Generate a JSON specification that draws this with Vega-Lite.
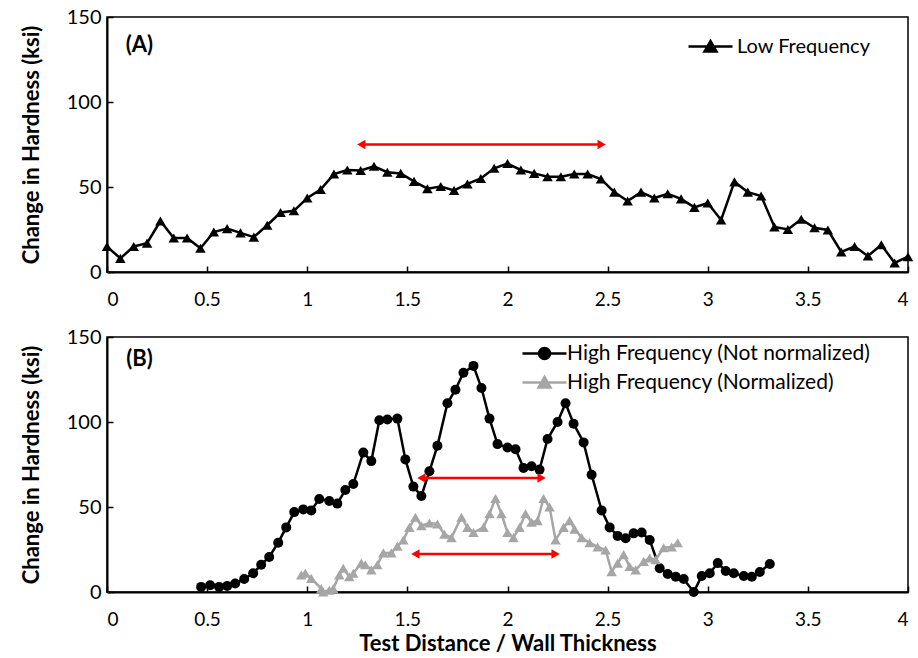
{
  "$schema": "https://vega.github.io/schema/vega-lite/v6.json",
  "padding": {"left": 19, "top": 6, "right": 8, "bottom": 0},
  "background": "white",
  "spacing": 65,
  "bounds": "flush",
  "resolve": {"scale": {"fill": "independent", "stroke": "independent", "shape": "independent"}},
  "config": {
    "font": "Lato",
    "view": {"stroke": "#000", "strokeWidth": 1.5},
    "axis": {"grid": false, "domainColor": "#000", "domainWidth": 2, "tickColor": "#000", "tickWidth": 1.5, "tickSize": -6,
      "labelFont": "Lato", "labelFontSize": 20, "labelColor": "#000",
      "titleFont": "Lato", "titleFontSize": 22, "titleFontWeight": "bold", "titleColor": "#000"},
    "axisX": {"labelPadding": 24, "labelFontSize": 19},
    "axisY": {"labelPadding": 12},
    "legend": {"padding": 0, "symbolSize": 400, "symbolStrokeWidth": 2.5, "symbolOpacity": 1, "labelFont": "Lato", "labelFontSize": 20, "labelColor": "#000", "labelLimit": 0, "rowPadding": 7, "symbolOffset": 10, "labelOffset": 15}
  },
  "datasets": {
    "low": [
      {"x": 0.0, "y": 15}, {"x": 0.0667, "y": 8}, {"x": 0.1333, "y": 15}, {"x": 0.2, "y": 17}, {"x": 0.2667, "y": 30},
      {"x": 0.3333, "y": 20}, {"x": 0.4, "y": 20}, {"x": 0.4667, "y": 14}, {"x": 0.5333, "y": 23.5}, {"x": 0.6, "y": 25.5},
      {"x": 0.6667, "y": 23}, {"x": 0.7333, "y": 20.5}, {"x": 0.8, "y": 27.5}, {"x": 0.8667, "y": 35}, {"x": 0.9333, "y": 36},
      {"x": 1.0, "y": 43.5}, {"x": 1.0667, "y": 48.5}, {"x": 1.1333, "y": 57.6}, {"x": 1.2, "y": 60}, {"x": 1.2667, "y": 59.7},
      {"x": 1.3333, "y": 62.2}, {"x": 1.4, "y": 58.7}, {"x": 1.4667, "y": 58}, {"x": 1.5333, "y": 53.3}, {"x": 1.6, "y": 49},
      {"x": 1.6667, "y": 50.3}, {"x": 1.7333, "y": 48}, {"x": 1.8, "y": 51.8}, {"x": 1.8667, "y": 55}, {"x": 1.9333, "y": 61},
      {"x": 2.0, "y": 63.8}, {"x": 2.0667, "y": 60}, {"x": 2.1333, "y": 58}, {"x": 2.2, "y": 56}, {"x": 2.2667, "y": 56},
      {"x": 2.3333, "y": 57.6}, {"x": 2.4, "y": 57.6}, {"x": 2.4667, "y": 54.7}, {"x": 2.5333, "y": 47}, {"x": 2.6, "y": 41.8},
      {"x": 2.6667, "y": 47}, {"x": 2.7333, "y": 43.5}, {"x": 2.8, "y": 46}, {"x": 2.8667, "y": 43}, {"x": 2.9333, "y": 38},
      {"x": 3.0, "y": 40.6}, {"x": 3.0667, "y": 30.6}, {"x": 3.1333, "y": 53}, {"x": 3.2, "y": 47}, {"x": 3.2667, "y": 44.7},
      {"x": 3.3333, "y": 26.5}, {"x": 3.4, "y": 25}, {"x": 3.4667, "y": 31}, {"x": 3.5333, "y": 26}, {"x": 3.6, "y": 24.7},
      {"x": 3.6667, "y": 11.8}, {"x": 3.7333, "y": 15}, {"x": 3.8, "y": 9.4}, {"x": 3.8667, "y": 16}, {"x": 3.9333, "y": 5.3},
      {"x": 4.0, "y": 9}
    ],
    "raw": [
      {"x": 0.47, "y": 3}, {"x": 0.515, "y": 4}, {"x": 0.56, "y": 3}, {"x": 0.6, "y": 3.5}, {"x": 0.64, "y": 5},
      {"x": 0.685, "y": 7.6}, {"x": 0.73, "y": 11}, {"x": 0.77, "y": 16}, {"x": 0.81, "y": 20.6}, {"x": 0.855, "y": 29},
      {"x": 0.895, "y": 38}, {"x": 0.935, "y": 47}, {"x": 0.98, "y": 48.6}, {"x": 1.02, "y": 48}, {"x": 1.06, "y": 54.7},
      {"x": 1.11, "y": 53.5}, {"x": 1.15, "y": 52}, {"x": 1.19, "y": 60}, {"x": 1.23, "y": 63.5}, {"x": 1.28, "y": 82},
      {"x": 1.32, "y": 77}, {"x": 1.36, "y": 101}, {"x": 1.4, "y": 101.5}, {"x": 1.45, "y": 102}, {"x": 1.49, "y": 78},
      {"x": 1.53, "y": 62}, {"x": 1.57, "y": 56.5}, {"x": 1.61, "y": 71}, {"x": 1.65, "y": 86}, {"x": 1.7, "y": 111},
      {"x": 1.74, "y": 119}, {"x": 1.78, "y": 129}, {"x": 1.83, "y": 133}, {"x": 1.87, "y": 120}, {"x": 1.91, "y": 102},
      {"x": 1.95, "y": 87}, {"x": 2.0, "y": 85}, {"x": 2.04, "y": 84}, {"x": 2.08, "y": 73}, {"x": 2.12, "y": 74},
      {"x": 2.16, "y": 72}, {"x": 2.2, "y": 90}, {"x": 2.25, "y": 100}, {"x": 2.29, "y": 111}, {"x": 2.33, "y": 99},
      {"x": 2.38, "y": 88}, {"x": 2.42, "y": 69}, {"x": 2.47, "y": 48}, {"x": 2.51, "y": 38}, {"x": 2.55, "y": 33},
      {"x": 2.59, "y": 31.6}, {"x": 2.63, "y": 34.5}, {"x": 2.67, "y": 35}, {"x": 2.71, "y": 30.6}, {"x": 2.76, "y": 14},
      {"x": 2.8, "y": 10.6}, {"x": 2.84, "y": 9}, {"x": 2.88, "y": 7.6}, {"x": 2.93, "y": 0}, {"x": 2.97, "y": 9.4},
      {"x": 3.01, "y": 11}, {"x": 3.05, "y": 17}, {"x": 3.09, "y": 12.4}, {"x": 3.13, "y": 11}, {"x": 3.18, "y": 9.4},
      {"x": 3.22, "y": 9}, {"x": 3.26, "y": 11.8}, {"x": 3.31, "y": 16.5}
    ],
    "norm": [
      {"x": 0.97, "y": 10}, {"x": 0.99, "y": 11}, {"x": 1.02, "y": 8}, {"x": 1.07, "y": 2}, {"x": 1.08, "y": 0},
      {"x": 1.11, "y": 1}, {"x": 1.13, "y": 2}, {"x": 1.16, "y": 10}, {"x": 1.18, "y": 14}, {"x": 1.21, "y": 9},
      {"x": 1.23, "y": 11}, {"x": 1.27, "y": 17}, {"x": 1.29, "y": 16}, {"x": 1.32, "y": 13}, {"x": 1.35, "y": 16},
      {"x": 1.38, "y": 23}, {"x": 1.42, "y": 23}, {"x": 1.45, "y": 27}, {"x": 1.48, "y": 30.6}, {"x": 1.51, "y": 38},
      {"x": 1.54, "y": 44}, {"x": 1.57, "y": 39}, {"x": 1.61, "y": 40.6}, {"x": 1.65, "y": 40}, {"x": 1.685, "y": 34},
      {"x": 1.72, "y": 32}, {"x": 1.77, "y": 44}, {"x": 1.8, "y": 38}, {"x": 1.83, "y": 35}, {"x": 1.88, "y": 38},
      {"x": 1.91, "y": 46}, {"x": 1.94, "y": 55}, {"x": 1.97, "y": 46}, {"x": 2.0, "y": 35}, {"x": 2.03, "y": 32},
      {"x": 2.06, "y": 38}, {"x": 2.09, "y": 46}, {"x": 2.12, "y": 41}, {"x": 2.15, "y": 42}, {"x": 2.18, "y": 55},
      {"x": 2.21, "y": 50}, {"x": 2.24, "y": 30.6}, {"x": 2.28, "y": 38}, {"x": 2.31, "y": 42}, {"x": 2.335, "y": 37},
      {"x": 2.37, "y": 32}, {"x": 2.41, "y": 29}, {"x": 2.45, "y": 26.5}, {"x": 2.49, "y": 24.7}, {"x": 2.52, "y": 12},
      {"x": 2.55, "y": 17}, {"x": 2.58, "y": 22}, {"x": 2.61, "y": 15}, {"x": 2.64, "y": 13}, {"x": 2.68, "y": 18},
      {"x": 2.71, "y": 20}, {"x": 2.74, "y": 19}, {"x": 2.78, "y": 26}, {"x": 2.82, "y": 26.5}, {"x": 2.85, "y": 29}
    ],
    "arrowsA": [{"x1": 1.27, "x2": 2.47, "y": 75}],
    "arrowsB": [{"x1": 1.57, "x2": 2.17, "y": 67}, {"x1": 1.54, "x2": 2.24, "y": 22.4}]
  },
  "vconcat": [
    {
      "width": 801,
      "height": 255,
      "layer": [
        {
          "data": {"name": "low"},
          "mark": {"type": "line", "color": "#000", "strokeWidth": 2.5},
          "encoding": {
            "x": {"field": "x", "type": "quantitative", "scale": {"domain": [0, 4], "nice": false},
              "axis": {"values": [0, 0.5, 1, 1.5, 2, 2.5, 3, 3.5, 4], "format": "~g", "title": null}},
            "y": {"field": "y", "type": "quantitative", "scale": {"domain": [0, 150], "nice": false},
              "axis": {"values": [0, 50, 100, 150], "title": "Change in Hardness (ksi)", "titlePadding": 23}}
          }
        },
        {
          "data": {"name": "low"},
          "mark": {"type": "point", "shape": "triangle-up", "filled": true, "color": "#000", "size": 110, "opacity": 1},
          "encoding": {"x": {"field": "x", "type": "quantitative"}, "y": {"field": "y", "type": "quantitative"}}
        },
        {
          "data": {"name": "arrowsA"},
          "mark": {"type": "rule", "color": "#ff0000", "strokeWidth": 2.5},
          "encoding": {"x": {"field": "x1", "type": "quantitative"}, "x2": {"field": "x2"}, "y": {"field": "y", "type": "quantitative"}}
        },
        {
          "data": {"name": "arrowsA"},
          "mark": {"type": "point", "shape": "triangle-left", "filled": true, "color": "#ff0000", "size": 90, "opacity": 1},
          "encoding": {"x": {"field": "x1", "type": "quantitative"}, "y": {"field": "y", "type": "quantitative"}}
        },
        {
          "data": {"name": "arrowsA"},
          "mark": {"type": "point", "shape": "triangle-right", "filled": true, "color": "#ff0000", "size": 90, "opacity": 1},
          "encoding": {"x": {"field": "x2", "type": "quantitative"}, "y": {"field": "y", "type": "quantitative"}}
        },
        {
          "data": {"values": [{}]},
          "mark": {"type": "text", "text": "(A)", "fontSize": 22, "fontWeight": "bold", "align": "center", "baseline": "middle", "color": "#000"},
          "encoding": {"x": {"datum": 0.162, "type": "quantitative"}, "y": {"datum": 133.5, "type": "quantitative"}}
        },
        {
          "data": {"values": [{"series": "Low Frequency"}]},
          "mark": {"type": "point", "filled": true, "opacity": 0},
          "encoding": {
            "fill": {"field": "series", "type": "nominal", "scale": {"domain": ["Low Frequency"], "range": ["#000"]},
              "legend": {"title": null, "orient": "none", "legendX": 582, "legendY": 18,
                "encode": {"symbols": {"update": {"opacity": {"value": 1}, "fillOpacity": {"value": 1}, "strokeOpacity": {"value": 1}, "strokeWidth": {"value": 2.5}}}}}},
            "stroke": {"field": "series", "type": "nominal", "scale": {"domain": ["Low Frequency"], "range": ["#000"]}},
            "shape": {"field": "series", "type": "nominal", "scale": {"domain": ["Low Frequency"], "range": ["M-2.2,0L2.2,0M-0.6,0.5L0,-0.55L0.6,0.5Z"]}}
          }
        }
      ]
    },
    {
      "width": 801,
      "height": 255,
      "layer": [
        {
          "data": {"name": "raw"},
          "mark": {"type": "line", "color": "#000", "strokeWidth": 2.5},
          "encoding": {
            "x": {"field": "x", "type": "quantitative", "scale": {"domain": [0, 4], "nice": false},
              "axis": {"values": [0, 0.5, 1, 1.5, 2, 2.5, 3, 3.5, 4], "format": "~g", "title": "Test Distance / Wall Thickness", "titlePadding": 4}},
            "y": {"field": "y", "type": "quantitative", "scale": {"domain": [0, 150], "nice": false},
              "axis": {"values": [0, 50, 100, 150], "title": "Change in Hardness (ksi)", "titlePadding": 23}}
          }
        },
        {
          "data": {"name": "raw"},
          "mark": {"type": "point", "shape": "circle", "filled": true, "color": "#000", "size": 100, "opacity": 1},
          "encoding": {"x": {"field": "x", "type": "quantitative"}, "y": {"field": "y", "type": "quantitative"}}
        },
        {
          "data": {"name": "norm"},
          "mark": {"type": "line", "color": "#a6a6a6", "strokeWidth": 2.5},
          "encoding": {"x": {"field": "x", "type": "quantitative"}, "y": {"field": "y", "type": "quantitative"}}
        },
        {
          "data": {"name": "norm"},
          "mark": {"type": "point", "shape": "triangle-up", "filled": true, "color": "#a6a6a6", "size": 110, "opacity": 1},
          "encoding": {"x": {"field": "x", "type": "quantitative"}, "y": {"field": "y", "type": "quantitative"}}
        },
        {
          "data": {"name": "arrowsB"},
          "mark": {"type": "rule", "color": "#ff0000", "strokeWidth": 2.5},
          "encoding": {"x": {"field": "x1", "type": "quantitative"}, "x2": {"field": "x2"}, "y": {"field": "y", "type": "quantitative"}}
        },
        {
          "data": {"name": "arrowsB"},
          "mark": {"type": "point", "shape": "triangle-left", "filled": true, "color": "#ff0000", "size": 90, "opacity": 1},
          "encoding": {"x": {"field": "x1", "type": "quantitative"}, "y": {"field": "y", "type": "quantitative"}}
        },
        {
          "data": {"name": "arrowsB"},
          "mark": {"type": "point", "shape": "triangle-right", "filled": true, "color": "#ff0000", "size": 90, "opacity": 1},
          "encoding": {"x": {"field": "x2", "type": "quantitative"}, "y": {"field": "y", "type": "quantitative"}}
        },
        {
          "data": {"values": [{}]},
          "mark": {"type": "text", "text": "(B)", "fontSize": 22, "fontWeight": "bold", "align": "center", "baseline": "middle", "color": "#000"},
          "encoding": {"x": {"datum": 0.162, "type": "quantitative"}, "y": {"datum": 137, "type": "quantitative"}}
        },
        {
          "data": {"values": [{"series": "High Frequency (Not normalized)"}, {"series": "High Frequency (Normalized)"}]},
          "mark": {"type": "point", "filled": true, "opacity": 0},
          "encoding": {
            "fill": {"field": "series", "type": "nominal", "scale": {"domain": ["High Frequency (Not normalized)", "High Frequency (Normalized)"], "range": ["#000", "#a6a6a6"]},
              "legend": {"title": null, "orient": "none", "legendX": 416, "legendY": 5, "labelFontSize": 21, "labelOffset": 11,
                "encode": {"symbols": {"update": {"opacity": {"value": 1}, "fillOpacity": {"value": 1}, "strokeOpacity": {"value": 1}, "strokeWidth": {"value": 2.5}}}}}},
            "stroke": {"field": "series", "type": "nominal", "scale": {"domain": ["High Frequency (Not normalized)", "High Frequency (Normalized)"], "range": ["#000", "#a6a6a6"]}},
            "shape": {"field": "series", "type": "nominal", "scale": {"domain": ["High Frequency (Not normalized)", "High Frequency (Normalized)"], "range": ["M-2.2,0L2.2,0M0.55,0A0.55,0.55,0,1,1,-0.55,0A0.55,0.55,0,1,1,0.55,0Z", "M-2.2,0L2.2,0M-0.6,0.5L0,-0.55L0.6,0.5Z"]}}
          }
        }
      ]
    }
  ]
}
